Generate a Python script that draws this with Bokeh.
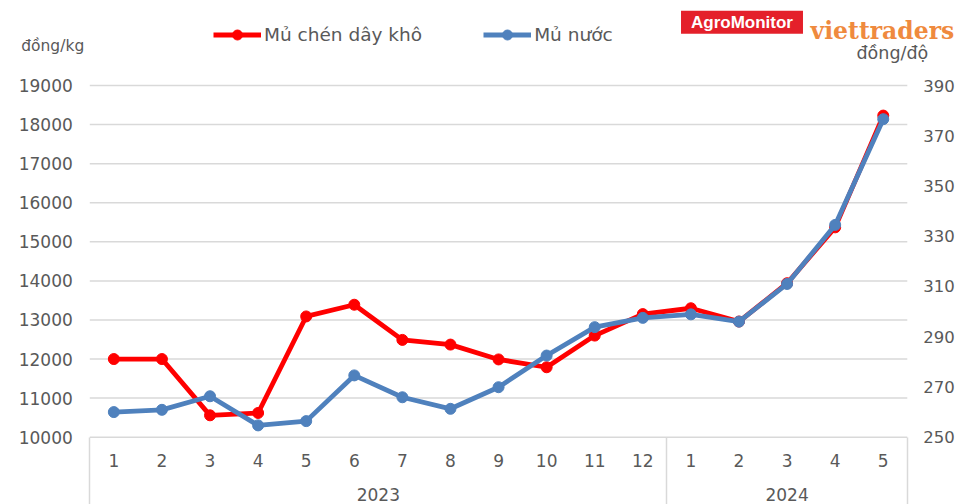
from bokeh.plotting import figure
from bokeh.models import (ColumnDataSource, Range1d, LinearAxis, FixedTicker,
                          Legend, LegendItem, Label)
from bokeh.embed import file_html
from bokeh.resources import INLINE

years = ["2023"] * 12 + ["2024"] * 5
months = [str(m) for m in range(1, 13)] + [str(m) for m in range(1, 6)]
mu_chen = [12000, 12000, 10560, 10620, 13090, 13390, 12490, 12370, 11990, 11790,
           12600, 13150, 13300, 12960, 13940, 15370, 18230]
mu_nuoc = [260.0, 260.9, 266.3, 254.7, 256.4, 274.6, 265.9, 261.3, 269.9, 282.5,
           293.8, 297.5, 298.9, 296.0, 311.0, 334.5, 376.6]
left_ticks = list(range(10000, 19001, 1000))
right_ticks = list(range(250, 391, 20))

RED = "#FF0000"
BLUE = "#4F81BD"
GREY = "#595959"
GRID = "#D9D9D9"
FONT = "DejaVu Sans"

# category slots: one unit per month, centred in its slot
n = len(months)
xpos = [i + 0.5 for i in range(n)]
year_names = sorted(set(years))
year_pos = [sum(x for x, y in zip(xpos, years) if y == yr) / years.count(yr) for yr in year_names]
edges = [0.0] + [float(i) for i in range(1, n) if years[i] != years[i - 1]] + [float(n)]

src = ColumnDataSource(dict(x=xpos, red=mu_chen, blue=mu_nuoc))
grid_src = ColumnDataSource(dict(x0=[0] * len(left_ticks), x1=[n] * len(left_ticks),
                                 y=left_ticks))

W, H = 956, 504
# plot area in canvas pixels: x 89.3..906.8, y 85 (top value) .. 436.7 (bottom value)
PL, PR, PT, PB = 89.3, 906.8, 85.0, 436.7
ux = (PR - PL) / n
x0r = -PL / ux
x1r = n + (W - PR) / ux
lo, hi = left_ticks[0], left_ticks[-1]
uy = (PB - PT) / (hi - lo)
ylo = lo - (H - PB) / uy
yhi = hi + PT / uy
rlo, rhi = right_ticks[0], right_ticks[-1]
ury = (PB - PT) / (rhi - rlo)
rylo = rlo - (H - PB) / ury
ryhi = rhi + PT / ury

p = figure(width=W, height=H, output_backend="svg", toolbar_location=None,
           x_range=Range1d(x0r, x1r), y_range=Range1d(ylo, yhi),
           x_axis_location=None, y_axis_location=None, min_border=0)
p.extra_y_ranges = {"r": Range1d(rylo, ryhi)}
p.outline_line_color = None
p.grid.visible = False


def quiet(ax, size="17px"):
    ax.axis_line_color = None
    ax.major_tick_line_color = None
    ax.minor_tick_line_color = None
    ax.major_tick_out = 0
    ax.major_tick_in = 0
    ax.major_label_text_font = FONT
    ax.major_label_text_font_size = size
    ax.major_label_text_color = GREY


ya = LinearAxis(ticker=FixedTicker(ticks=left_ticks), fixed_location=0)
quiet(ya)
ya.major_label_standoff = 17
p.add_layout(ya, "left")

ra = LinearAxis(y_range_name="r", ticker=FixedTicker(ticks=right_ticks), fixed_location=n)
quiet(ra, "16.5px")
ra.major_label_standoff = 16
p.add_layout(ra, "right")

ma = LinearAxis(ticker=FixedTicker(ticks=xpos), fixed_location=lo,
                major_label_overrides={x: m for x, m in zip(xpos, months)})
quiet(ma)
ma.major_label_standoff = 17
p.add_layout(ma, "below")

yra = LinearAxis(ticker=FixedTicker(ticks=year_pos), fixed_location=lo,
                 major_label_overrides={x: y for x, y in zip(year_pos, year_names)})
quiet(yra)
yra.major_label_standoff = 51
p.add_layout(yra, "below")

# borders of the category box, drawn as ticks of a silent axis
ea = LinearAxis(ticker=FixedTicker(ticks=edges), fixed_location=lo)
quiet(ea, "1px")
ea.major_tick_line_color = GRID
ea.major_tick_line_width = 1.5
ea.major_tick_out = 70
ea.major_label_standoff = 0
ea.major_label_text_color = None
p.add_layout(ea, "below")

# horizontal gridlines limited to the plot area
p.segment(x0="x0", x1="x1", y0="y", y1="y", source=grid_src, line_color=GRID,
          line_width=1.5)

rl = p.line("x", "red", source=src, line_color=RED, line_width=4.8)
rs = p.scatter("x", "red", source=src, size=11, fill_color=RED, line_color=RED)
bl = p.line("x", "blue", source=src, line_color=BLUE, line_width=4.8, y_range_name="r")
bs = p.scatter("x", "blue", source=src, size=11, fill_color=BLUE, line_color=BLUE,
               y_range_name="r")

legend = Legend(items=[LegendItem(label="Mủ chén dây khô", renderers=[rl, rs]),
                       LegendItem(label="Mủ nước", renderers=[bl, bs])],
                orientation="horizontal", location=(213, H - 46.5), glyph_width=48,
                glyph_height=25, label_height=25, label_standoff=3, spacing=61,
                padding=0, margin=0, border_line_color=None, background_fill_alpha=0,
                label_text_font=FONT, label_text_font_size="18.5px",
                label_text_color=GREY)
p.add_layout(legend)


def label(x, y, text, **kw):
    p.add_layout(Label(x=x, y=H - y, x_units="screen", y_units="screen", text=text, **kw))


label(20.7, 45, "đồng/kg", text_font=FONT, text_font_size="15.5px", text_color=GREY,
      text_baseline="middle")
label(856, 52, "đồng/độ", text_font=FONT, text_font_size="17.5px", text_color=GREY,
      text_baseline="middle")
label(741.5, 21.7, "AgroMonitor", text_font="Liberation Sans", text_font_style="bold",
      text_font_size="17px", text_color="white", text_align="center",
      text_baseline="middle", background_fill_color="#E4202A", padding=dict(x=10, y=2))
label(810, 30, "viettraders", text_font="DejaVu Serif", text_font_style="bold",
      text_font_size="23.5px", text_color="#EF8A3E", text_baseline="alphabetic")

open("out.html", "w").write(file_html(p, INLINE))
